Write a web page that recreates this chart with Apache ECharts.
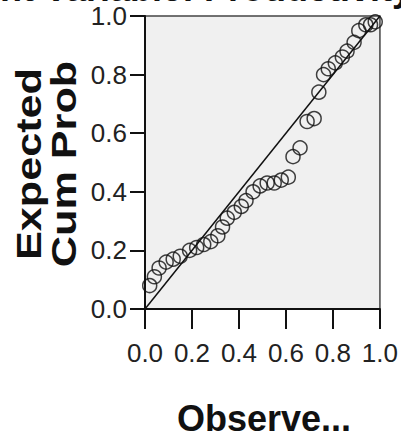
<!DOCTYPE html>
<html>
<head>
<meta charset="utf-8">
<script src="https://cdn.jsdelivr.net/npm/echarts@6/dist/echarts.min.js"></script>
<style>
html,body{margin:0;padding:0;background:#fff;}
#c{width:401px;height:437px;}
</style>
</head>
<body>
<div id="c"></div>
<script>
// Observed cumulative probability (x) and expected cumulative probability (y)
var observedCumProb = [0.02,0.04,0.06,0.09,0.12,0.15,0.19,0.22,0.25,0.28,0.31,0.33,0.35,0.38,0.41,0.43,0.46,0.49,0.52,0.55,0.58,0.61,0.63,0.66,0.69,0.72,0.74,0.76,0.78,0.81,0.84,0.86,0.89,0.91,0.94,0.96,0.98];
var expectedCumProb = [0.08,0.11,0.14,0.16,0.17,0.18,0.20,0.21,0.22,0.23,0.25,0.28,0.31,0.33,0.35,0.37,0.40,0.42,0.43,0.43,0.44,0.45,0.52,0.55,0.64,0.65,0.74,0.80,0.82,0.84,0.86,0.88,0.91,0.95,0.97,0.97,0.98];
var refLine = [[0,0],[1,1]];
var tickValues = [0.0,0.2,0.4,0.6,0.8,1.0];
var titleText = 'Dependent Variable: Productivity';
var yTitle = 'Expected\nCum Prob';
var xTitle = 'Observe...';

var points = observedCumProb.map(function(x,i){return [x, expectedCumProb[i]];});
var tickFont = "'Liberation Sans',Arial,sans-serif";

var chart = echarts.init(document.getElementById('c'), null, {renderer:'svg'});
chart.setOption({
  animation:false,
  backgroundColor:'#ffffff',
  grid:{left:145, top:16, width:240, height:293, show:true, backgroundColor:'#f0f0f0', borderColor:'#444', borderWidth:1.5},
  xAxis:{type:'value', min:0, max:1, interval:0.2,
    axisLine:{show:true, onZero:false, lineStyle:{color:'#111', width:2}},
    axisTick:{show:true, inside:false, length:20, lineStyle:{color:'#111', width:2}},
    splitLine:{show:false},
    axisLabel:{margin:31, fontSize:26, fontFamily:tickFont, color:'#222',
      formatter:function(v){return v.toFixed(1);}}
  },
  yAxis:{type:'value', min:0, max:1, interval:0.2,
    axisLine:{show:true, onZero:false, lineStyle:{color:'#111', width:2}},
    axisTick:{show:true, inside:false, length:15, lineStyle:{color:'#111', width:2}},
    splitLine:{show:false},
    axisLabel:{margin:18, fontSize:26, fontFamily:tickFont, color:'#222',
      formatter:function(v){return v.toFixed(1);}}
  },
  graphic:[
    {type:'text', x:-152, y:-12, silent:true,
      style:{text:titleText, fill:'#111', font:"bold 36px 'Liberation Sans',Arial,sans-serif", lineHeight:20, textAlign:'left', textVerticalAlign:'middle'}},
    {type:'text', x:46, y:164, rotation:Math.PI/2, scaleX:1.2, silent:true,
      style:{text:yTitle, fill:'#111', font:"bold 36px 'Liberation Sans',Arial,sans-serif", lineHeight:35, textAlign:'center', textVerticalAlign:'middle'}},
    {type:'text', x:264, y:418, silent:true,
      style:{text:xTitle, fill:'#111', font:"bold 36px 'Liberation Sans',Arial,sans-serif", textAlign:'center', textVerticalAlign:'middle'}}
  ],
  series:[
    {type:'line', data:refLine, symbol:'none', silent:true,
      lineStyle:{color:'#111', width:1.5}, z:2},
    {type:'scatter', data:points, symbol:'circle', symbolSize:14,
      itemStyle:{color:'rgba(0,0,0,0)', borderColor:'#111', borderWidth:1.5}, z:3}
  ]
});
</script>
</body>
</html>
